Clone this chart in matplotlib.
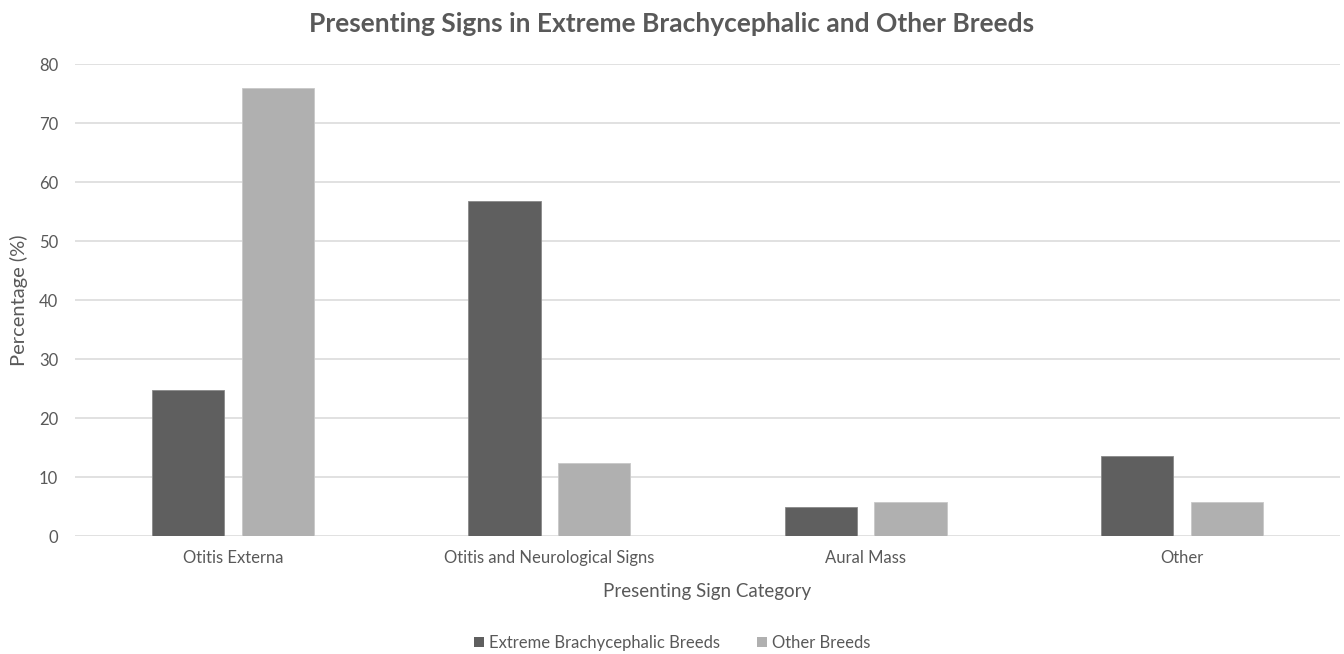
import matplotlib
matplotlib.use("Agg")
import matplotlib.pyplot as plt
import numpy as np
from matplotlib.patches import Patch

categories = ["Otitis Externa", "Otitis and Neurological Signs", "Aural Mass", "Other"]
series_names = ["Extreme Brachycephalic Breeds", "Other Breeds"]
brachy = [24.7, 56.8, 4.9, 13.6]
other = [76.0, 12.4, 5.8, 5.8]
y_ticks = [0, 10, 20, 30, 40, 50, 60, 70, 80]

plt.rcParams["font.family"] = ["Lato", "DejaVu Sans"]
text_col = "#595959"
dark_col = "#5f5f5f"
light_col = "#b0b0b0"

fig = plt.figure(figsize=(13.44, 6.54), dpi=100)
ax = fig.add_axes([0.0558, 0.1804, 0.9412, 0.7216])

x = np.arange(len(categories))
w = 0.228
off = 0.142
ax.bar(x - off, brachy, w, color=dark_col, edgecolor="#8a8a8a", linewidth=0.6, zorder=3)
ax.bar(x + off, other, w, color=light_col, edgecolor="#c8c8c8", linewidth=0.6, zorder=3)

ax.set_xlim(-0.5, len(categories) - 0.5)
ax.set_ylim(0, 80)
ax.set_yticks(y_ticks)
ax.set_xticks(x)
ax.set_xticklabels(categories)
ax.grid(axis="y", color="#d9d9d9", linewidth=1.1, zorder=0)
for s in ax.spines.values():
    s.set_visible(False)
ax.tick_params(axis="both", length=0, labelsize=12, colors=text_col)
ax.tick_params(axis="y", pad=12)
ax.tick_params(axis="x", pad=10)

ax.set_xlabel("Presenting Sign Category", fontsize=13.5, color=text_col, labelpad=12)
ax.set_ylabel("Percentage (%)", fontsize=14.5, color=text_col, labelpad=8)

fig.text(0.5, 0.964, "Presenting Signs in Extreme Brachycephalic and Other Breeds",
         ha="center", va="center", fontsize=19, fontweight="bold", color=text_col)

handles = [Patch(facecolor=dark_col, edgecolor="none"), Patch(facecolor=light_col, edgecolor="none")]
fig.legend(handles, series_names, loc="center", bbox_to_anchor=(0.5, 0.017),
           ncol=2, frameon=False, fontsize=12, labelcolor=text_col,
           handlelength=0.6, handleheight=0.6, handletextpad=0.3, columnspacing=2.2)

fig.savefig("out.png", dpi=100, facecolor="white")
